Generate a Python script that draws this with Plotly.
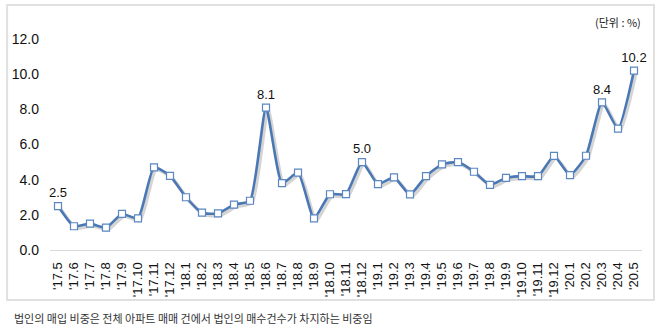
import plotly.graph_objects as go

# Monthly share of corporate buyers in apartment transactions (%)
months = ["'17.5", "'17.6", "'17.7", "'17.8", "'17.9", "'17.10", "'17.11", "'17.12",
          "'18.1", "'18.2", "'18.3", "'18.4", "'18.5", "'18.6", "'18.7", "'18.8",
          "'18.9", "'18.10", "'18.11", "'18.12", "'19.1", "'19.2", "'19.3", "'19.4",
          "'19.5", "'19.6", "'19.7", "'19.8", "'19.9", "'19.10", "'19.11", "'19.12",
          "'20.1", "'20.2", "'20.3", "'20.4", "'20.5"]
share = [2.5, 1.35, 1.5, 1.27, 2.05, 1.8, 4.7, 4.22,
         3.0, 2.12, 2.08, 2.58, 2.8, 8.1, 3.8, 4.4,
         1.8, 3.17, 3.18, 5.0, 3.75, 4.13, 3.16, 4.2,
         4.87, 5.0, 4.45, 3.7, 4.1, 4.2, 4.2, 5.35,
         4.26, 5.36, 8.4, 6.9, 10.2]
labeled = {"'17.5", "'18.6", "'18.12", "'20.3", "'20.5"}
point_text = [f"{v:.1f}" if m in labeled else "" for m, v in zip(months, share)]

W, H = 658, 326
L, R, T, B = 48, 14, 39, 74
PW, PH = W - L - R, H - T - B
SH = 2  # shadow offset in px


def px(x):
    return (x - L) / PW


def py(y):
    return (H - B - y) / PH


LINE = "#4a78b5"
FONT = "Liberation Sans, Arial, sans-serif"

fig = go.Figure()

# soft drop shadow under the line (drawn first, on its own offset axes)
fig.add_trace(go.Scatter(
    x=months, y=share, mode="lines", xaxis="x", yaxis="y",
    line=dict(color="rgba(60,60,60,0.22)", width=3.5, shape="spline", smoothing=0.5),
    hoverinfo="skip", showlegend=False,
))

fig.add_trace(go.Scatter(
    x=months, y=share, mode="lines+markers+text", xaxis="x2", yaxis="y2",
    line=dict(color=LINE, width=2.6, shape="spline", smoothing=0.5),
    marker=dict(symbol="square", size=7, color="white",
                line=dict(color="#5b87c2", width=1.2)),
    text=point_text, textposition="top center",
    textfont=dict(family=FONT, size=13, color="#111"),
    cliponaxis=False, showlegend=False,
))

fig.update_layout(
    width=W, height=H,
    margin=dict(l=L, r=R, t=T, b=B),
    paper_bgcolor="white", plot_bgcolor="rgba(0,0,0,0)",
    font=dict(family=FONT, size=13, color="#111"),
    xaxis=dict(domain=[SH / PW, 1], type="category", anchor="y",
               range=[-0.5, len(months) - 0.5], visible=False),
    yaxis=dict(domain=[0, (PH - SH) / PH], range=[0, 12], anchor="x",
               visible=False),
    xaxis2=dict(domain=[0, (PW - SH) / PW], type="category", anchor="y2",
                range=[-0.5, len(months) - 0.5],
                showgrid=False, zeroline=False, showline=True,
                linecolor="#d9d9d9", linewidth=1,
                tickangle=-90, ticks="", ticklabelstandoff=6,
                tickfont=dict(family=FONT, size=13, color="#111")),
    yaxis2=dict(domain=[SH / PH, 1], range=[0, 12], dtick=2, tickformat=".1f",
                anchor="x2",
                showgrid=False, zeroline=False, showline=False,
                ticks="", ticklabelstandoff=10,
                tickfont=dict(family=FONT, size=14, color="#111")),
    shapes=[dict(type="rect", xref="paper", yref="paper",
                 x0=px(5), x1=px(654), y0=py(300), y1=py(5),
                 line=dict(color="#e0e0e0", width=2), layer="below")],
    annotations=[
        dict(text="(단위 : %)", xref="paper", yref="paper",
             x=px(643), y=py(22), xanchor="right", yanchor="middle",
             showarrow=False,
             font=dict(family="Noto Sans CJK KR", size=11, color="#222")),
        dict(text="법인의 매입 비중은 전체 아파트 매매 건에서 법인의 매수건수가 차지하는 비중임",
             xref="paper", yref="paper",
             x=px(10), y=py(318), xanchor="left", yanchor="middle",
             showarrow=False,
             font=dict(family="Noto Sans CJK KR", size=11, color="#333")),
    ],
)

fig.write_html("out.html")
